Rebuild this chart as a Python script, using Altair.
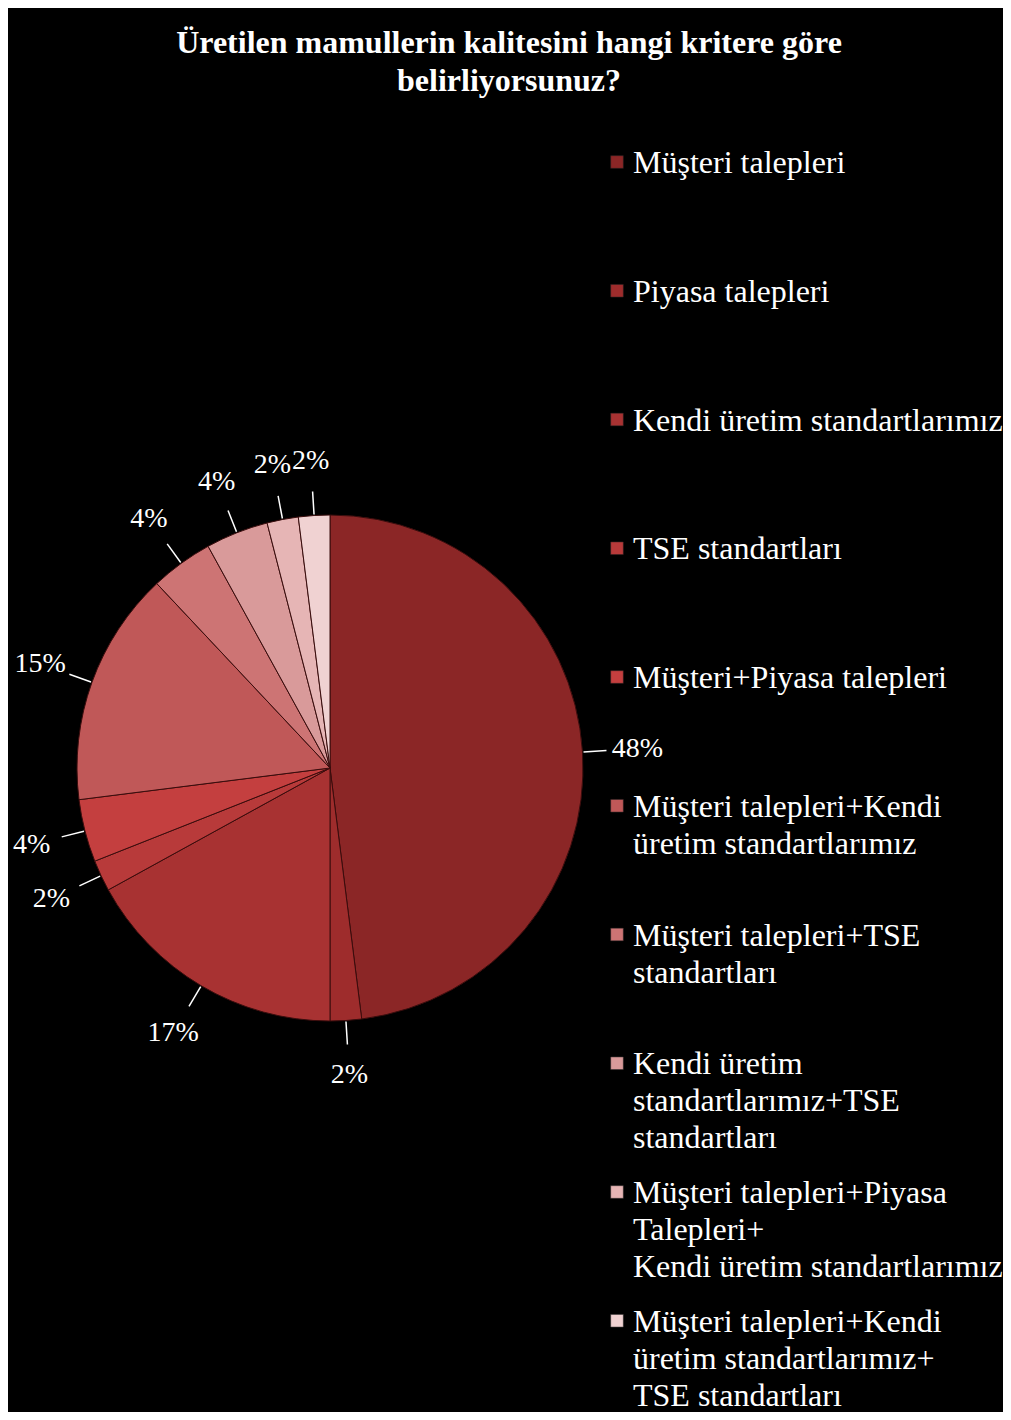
import altair as alt
import pandas as pd

title_lines = ["Üretilen mamullerin kalitesini hangi kritere göre", "belirliyorsunuz?"]

categories = [
    "Müşteri talepleri",
    "Piyasa talepleri",
    "Kendi üretim standartlarımız",
    "TSE standartları",
    "Müşteri+Piyasa talepleri",
    "Müşteri talepleri+Kendi\nüretim standartlarımız",
    "Müşteri talepleri+TSE\nstandartları",
    "Kendi üretim\nstandartlarımız+TSE\nstandartları",
    "Müşteri talepleri+Piyasa\nTalepleri+\nKendi üretim standartlarımız",
    "Müşteri talepleri+Kendi\nüretim standartlarımız+\nTSE standartları",
]
values = [48, 2, 17, 2, 4, 15, 4, 4, 2, 2]
colors = ["#8b2626", "#9e2c2c", "#a83232", "#b83a3a", "#c43f3f",
          "#c05858", "#cd7474", "#d99a9a", "#e6b5b5", "#f0d2d2"]

W, H = 995, 1404
CX, CY, R = 322, 760, 253
FONT = "Liberation Serif"

df = pd.DataFrame({
    "idx": list(range(len(categories))),
    "cat": categories,
    "value": values,
    "label": [f"{v}%" for v in values],
})

color = alt.Color("cat:N", scale=alt.Scale(domain=categories, range=colors), legend=None)

base = alt.Chart(df).encode(
    theta=alt.Theta("value:Q", stack=True),
    order=alt.Order("idx:Q", sort="ascending"),
    x=alt.value(CX),
    y=alt.value(CY),
)

pie = base.mark_arc(outerRadius=R, stroke="#3a0d0d", strokeWidth=1).encode(color=color)

pct = base.mark_text(radius=R + 55, fontSize=28, font=FONT, color="white",
                     align="center", baseline="middle").encode(text="label:N")

lines = alt.Chart(df).transform_window(
    cum="sum(value)", sort=[alt.SortField("idx")], frame=[None, 0]
).transform_joinaggregate(total="sum(value)").transform_calculate(
    mid="2*PI*(datum.cum - datum.value/2)/datum.total"
).transform_calculate(
    x1=f"{CX}+{R+1}*sin(datum.mid)",
    y1=f"{CY}-{R+1}*cos(datum.mid)",
    x2=f"{CX}+{R+24}*sin(datum.mid)",
    y2=f"{CY}-{R+24}*cos(datum.mid)",
).mark_rule(color="white", strokeWidth=1.5).encode(
    x=alt.X("x1:Q", scale=None), y=alt.Y("y1:Q", scale=None),
    x2="x2:Q", y2="y2:Q",
)

leg = alt.Chart(df).transform_calculate(
    sy="154 + datum.idx*128.75",
    ty="165 + datum.idx*128.75",
)
leg_sym = leg.mark_square(size=160, stroke="#222", strokeWidth=0.5, opacity=1).encode(
    x=alt.value(609), y=alt.Y("sy:Q", scale=None), color=color,
)
leg_txt = leg.mark_text(align="left", baseline="alphabetic", lineBreak="\n",
                        lineHeight=37, fontSize=32, font=FONT, color="white").encode(
    x=alt.value(625), y=alt.Y("ty:Q", scale=None), text="cat:N",
)

tdf = pd.DataFrame({"t": ["\n".join(title_lines)]})
title = alt.Chart(tdf).mark_text(align="center", baseline="alphabetic", lineBreak="\n",
                                 lineHeight=38, fontSize=32, font=FONT, fontWeight="bold",
                                 color="white").encode(
    x=alt.value(501), y=alt.value(45), text="t:N",
)

chart = alt.layer(pie, lines, pct, leg_sym, leg_txt, title).properties(
    width=W, height=H, autosize="none", padding=0, background="black",
).configure_view(stroke=None)

chart.save("out.html", embed_options={"renderer": "svg", "actions": False})
